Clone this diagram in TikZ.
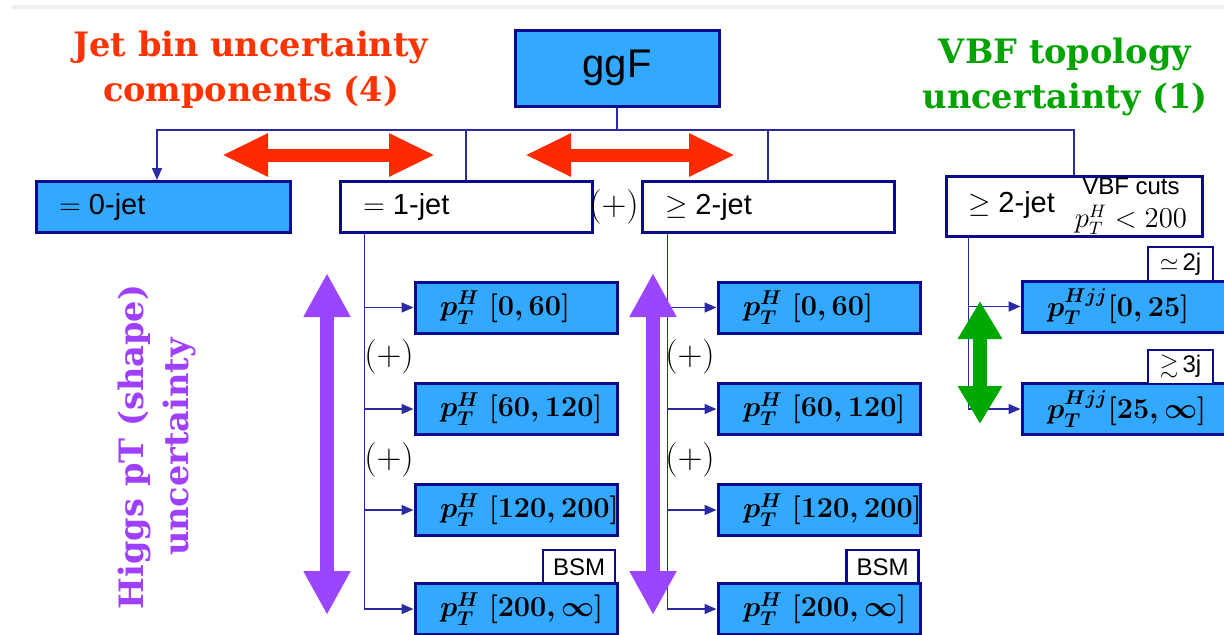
\documentclass[tikz,border=0pt]{standalone}
\usepackage{amssymb}
\usepackage{fontspec}
\newfontfamily\boxfont{Liberation Sans}
\newfontfamily\titlefont{DejaVu Serif}
\usetikzlibrary{arrows.meta}
\definecolor{boxblue}{HTML}{33A8FF}
\definecolor{navy}{HTML}{0A0A8F}
\definecolor{linecol}{HTML}{2A2AA5}
\definecolor{jred}{HTML}{FF3300}
\definecolor{vgreen}{HTML}{00A300}
\definecolor{hpurple}{HTML}{A040FF}
\definecolor{arrred}{HTML}{FF2A00}
\definecolor{arrpurple}{HTML}{9A45FF}
\definecolor{arrgreen}{HTML}{00A800}
\newcommand{\lbx}[2]{\makebox[#1][l]{#2}}
\begin{document}
\begin{tikzpicture}[x=0.5pt,y=-0.5pt,
  bfont/.style={font=\boxfont\fontsize{14.5}{16}\selectfont},
  bbox/.style={draw=navy, line width=1.5pt, fill=boxblue, inner ysep=0pt, minimum height=25.5pt, bfont},
  wbox/.style={bbox, fill=white},
  tagbox/.style={draw=navy, line width=1.2pt, fill=white, inner sep=0pt, minimum width=36pt, minimum height=16.5pt, font=\boxfont\fontsize{12}{13}\selectfont},
  conn/.style={draw=linecol, line width=0.8pt},
  arr/.style={conn, -{Triangle[length=6pt,width=5pt]}},
  titl/.style={font=\titlefont\bfseries\fontsize{16.8}{22.5}\selectfont, align=center},
  pl/.style={font=\fontsize{16}{17}\selectfont, inner sep=0pt},
  redarr/.style={draw=arrred, line width=6.5pt, {Triangle[length=23pt,width=20pt]}-{Triangle[length=23pt,width=20pt]}},
  purarr/.style={draw=arrpurple, line width=7pt, {Triangle[length=22pt,width=22pt]}-{Triangle[length=22pt,width=22pt]}},
  grnarr/.style={draw=arrgreen, line width=7pt, {Triangle[length=19pt,width=21pt]}-{Triangle[length=19pt,width=21pt]}}
]
\useasboundingbox (0,0) rectangle (1224,634);
\draw[black!6, line width=2pt] (12,7) -- (1224,7);

% titles
\node[titl, text=jred] (tjet) at (251,70) {Jet bin uncertainty\\components (4)};
\node[titl, text=vgreen] (tvbf) at (1065,77) {VBF topology\\uncertainty (1)};
\node[titl, text=hpurple, rotate=90] (thig) at (157,447) {Higgs pT (shape)\\uncertainty};

% top level
\node[bbox, minimum width=102pt, minimum height=38pt, font=\boxfont\fontsize{20}{22}\selectfont] (ggF) at (617,68) {ggF};
\node[bbox, inner xsep=11.5pt] (j0) at (163,207) {\lbx{104pt}{$=$ 0-jet}};
\node[wbox, inner xsep=11.5pt] (j1) at (466,207) {\lbx{103pt}{$=$ 1-jet}};
\node[wbox, inner xsep=11.5pt] (j2) at (768,207) {\lbx{103pt}{$\geq$ 2-jet}};
\node[wbox, inner xsep=11pt, minimum height=30pt] (vbf) at (1074,206) {\lbx{106pt}{$\geq$ 2-jet\hspace{10pt}{\fontsize{12}{13}\selectfont\begin{tabular}{@{}c@{}}VBF cuts\\[1pt]{\fontsize{13.5}{14}\selectfont$p_T^H<200$}\end{tabular}}}};
\node[pl] (plus0) at (614,207) {$(+)$};

\coordinate (hub) at (617,130);
\draw[conn] (ggF.south) -- (hub);
\draw[arr] (hub) -| ([xshift=-3pt]j0.north);
\draw[conn] (hub) -| (j1.north);
\draw[conn] (hub) -| (j2.north);
\draw[conn] (hub) -| (vbf.north);

% column 1
\node[bbox, inner xsep=12.5pt] (a1) at (516,307.5) {\lbx{76pt}{\boldmath$p_T^H\;[0,60]$}};
\node[bbox, inner xsep=12.5pt] (a2) at (516,409) {\lbx{76pt}{\boldmath$p_T^H\;[60,120]$}};
\node[bbox, inner xsep=12.5pt] (a3) at (516,510) {\lbx{76pt}{\boldmath$p_T^H\;[120,200]$}};
\node[bbox, inner xsep=12.5pt] (a4) at (516,609) {\lbx{76pt}{\boldmath$p_T^H\;[200,\infty]$}};
\node[tagbox] (bsm1) at (579,566.75) {BSM};
\node[pl] (p11) at (389,357) {$(+)$};
\node[pl] (p12) at (389,460) {$(+)$};
\coordinate (t1) at ([xshift=13pt]j1.south west);
\draw[arr] (t1) |- (a1);
\draw[arr] (t1) |- (a2);
\draw[arr] (t1) |- (a3);
\draw[arr] (t1) |- (a4);

% column 2
\node[bbox, inner xsep=12.5pt] (b1) at (819,307.5) {\lbx{76pt}{\boldmath$p_T^H\;[0,60]$}};
\node[bbox, inner xsep=12.5pt] (b2) at (819,409) {\lbx{76pt}{\boldmath$p_T^H\;[60,120]$}};
\node[bbox, inner xsep=12.5pt] (b3) at (819,510) {\lbx{76pt}{\boldmath$p_T^H\;[120,200]$}};
\node[bbox, inner xsep=12.5pt] (b4) at (819,609) {\lbx{76pt}{\boldmath$p_T^H\;[200,\infty]$}};
\node[tagbox] (bsm2) at (882.5,566.75) {BSM};
\node[pl] (p21) at (690,357) {$(+)$};
\node[pl] (p22) at (690,460) {$(+)$};
\coordinate (t2) at ([xshift=13.5pt]j2.south west);
\draw[arr] (t2) |- (b1);
\draw[arr] (t2) |- (b2);
\draw[arr] (t2) |- (b3);
\draw[arr] (t2) |- (b4);

% VBF column
\node[bbox, inner xsep=12.5pt] (c1) at (1124,306.5) {\lbx{77pt}{\boldmath$p_T^{Hjj}[0,25]$}};
\node[bbox, inner xsep=12.5pt] (c2) at (1124,409) {\lbx{77pt}{\boldmath$p_T^{Hjj}[25,\infty]$}};
\node[tagbox, minimum width=32.5pt, minimum height=17pt] (g2) at (1180.5,264.25) {$\simeq$\,2j};
\node[tagbox, minimum width=32.5pt, minimum height=17pt] (g3) at (1180.5,366.75) {$\gtrsim$\,3j};
\coordinate (t3) at ([xshift=12pt]vbf.south west);
\draw[arr] (t3) |- (c1);
\draw[arr] (t3) |- (c2);

% big double arrows
\coordinate (r1a) at (222,155); \coordinate (r1b) at (435,155);
\coordinate (r2a) at (525,155); \coordinate (r2b) at (735,155);
\draw[redarr] (r1a) -- (r1b);
\draw[redarr] (r2a) -- (r2b);
\coordinate (u1a) at (327,273); \coordinate (u1b) at (327,615);
\coordinate (u2a) at (653,273); \coordinate (u2b) at (653,615);
\draw[purarr] (u1a) -- (u1b);
\draw[purarr] (u2a) -- (u2b);
\coordinate (v1a) at (980,301); \coordinate (v1b) at (980,424);
\draw[grnarr] (v1a) -- (v1b);
\end{tikzpicture}
\end{document}
